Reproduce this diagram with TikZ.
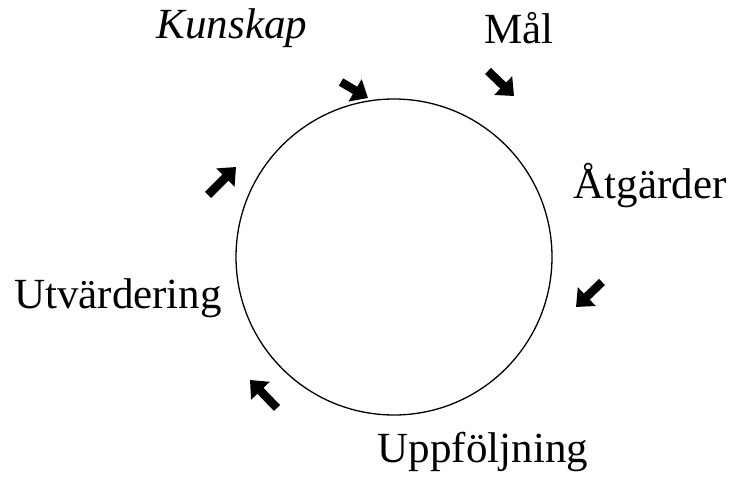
\documentclass[tikz,border=0pt]{standalone}
\usepackage{fontspec}
\setmainfont{Liberation Serif}
\usetikzlibrary{arrows.meta}

\begin{document}
\begin{tikzpicture}[x=1pt,y=-1pt,
  label/.style={font=\fontsize{43}{50}\selectfont,inner sep=0pt},
  pil/.style={line width=8.5pt,-{Triangle[length=15pt,width=25pt]}}]
\useasboundingbox (0,0) rectangle (733,479);
% The cycle
\node[draw,circle,line width=1.3pt,minimum size=316pt,inner sep=0pt] (ring) at (394,257) {};
% Labels around the cycle
\node[label] (kunskap) at (232,28) {\textit{Kunskap}};
\node[label] (mal) at (519,28) {Mål};
\node[label] (atgarder) at (650,186) {Åtgärder};
\node[label] (utv) at (118,298) {Utvärdering};
\node[label] (uppf) at (483,452) {Uppföljning};
% Arrows
\coordinate (k1) at (341,82); \coordinate (k2) at (368,98);
\coordinate (m1) at (488,71); \coordinate (m2) at (514,96);
\coordinate (a1) at (602,282); \coordinate (a2) at (576,307);
\coordinate (u1) at (277,408); \coordinate (u2) at (250,380);
\coordinate (v1) at (208,195); \coordinate (v2) at (236,167);
\draw[pil] (k1) -- (k2);
\draw[pil] (m1) -- (m2);
\draw[pil] (a1) -- (a2);
\draw[pil] (u1) -- (u2);
\draw[pil] (v1) -- (v2);
\end{tikzpicture}
\end{document}
